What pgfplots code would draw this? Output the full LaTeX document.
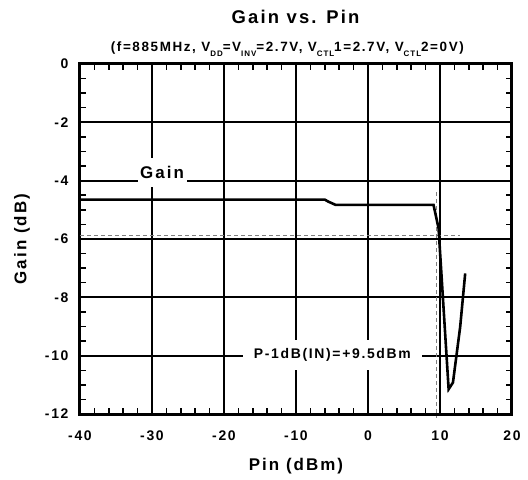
\documentclass[border=0pt]{standalone}
\usepackage{pgfplots}
\pgfplotsset{compat=1.18}
\usepackage{fontspec}
\setmainfont{Liberation Sans}[LetterSpace=12]
\newcommand{\sub}[1]{\raisebox{-0.7ex}{\fontsize{8}{9}\selectfont #1}}
\begin{document}
\begin{tikzpicture}
\begin{axis}[
 scale only axis, width=432bp, height=350bp,
 xmin=-40,xmax=20,ymin=-12,ymax=0,
 xtick={-40,-30,...,20}, xticklabels={-40,-30,-20,-10,0,10,20},
 ytick={-12,-10,...,0}, yticklabels={-12,-10,-8,-6,-4,-2,0},
 minor x tick num=4, minor y tick num=3,
 grid=major, major grid style={black, line width=1.8bp},
 axis line style={line width=3bp},
 tick style={black, line width=1.5bp},
 major tick length=0pt, minor tick length=6bp,
 tick align=inside,
 tick label style={font=\bfseries\fontsize{14}{15}\selectfont},
 xticklabel style={yshift=-13bp},
 yticklabel style={xshift=-8bp},
 xlabel={Pin (dBm)}, ylabel={Gain (dB)},
 label style={font=\bfseries\fontsize{17}{18}\selectfont},
 x label style={at={(axis description cs:0.5,-0.149)}, anchor=center},
 y label style={at={(axis description cs:-0.134,0.5)}, anchor=center},
 clip=false,
]
\addplot[gray, line width=1.2bp, dash pattern=on 4bp off 3bp] coordinates {(-40,-5.88) (12.8,-5.88)};
\addplot[gray, line width=1.2bp, dash pattern=on 4bp off 3bp] coordinates {(9.55,-4.4) (9.55,-12.15)};
\addplot[black, line width=2.6bp] coordinates {
(-40,-4.65) (-6,-4.65) (-5.5,-4.72) (-4.5,-4.83) (9.1,-4.83) (9.8,-5.63)
(11.2,-11.15) (11.8,-10.92) (12.8,-9.02) (13.5,-7.18)};
\node[fill=white, inner sep=0pt, minimum width=49bp, minimum height=29bp, font=\bfseries\fontsize{17}{18}\selectfont] at (axis cs:-28.6,-3.72) {Gain};
\node[fill=white, inner sep=0pt, minimum width=179bp, minimum height=30bp, font=\bfseries\fontsize{14}{15}\selectfont] at (axis cs:-4.95,-9.98) {\raisebox{-3bp}{P-1dB(IN)=+9.5dBm}};
\node[anchor=base, font=\bfseries\fontsize{18.5}{20}\selectfont] at (rel axis cs:0.499,1.117) {Gain vs. Pin};
\node[anchor=base, font=\bfseries\fontsize{13.5}{15}\selectfont] at (rel axis cs:0.48,1.037) {(f=885MHz, V\sub{DD}=V\sub{INV}=2.7V, V\sub{CTL}1=2.7V, V\sub{CTL}2=0V)};
\path (rel axis cs:0,0) ++(-80bp,-66bp) rectangle ++(528bp,480bp);
\end{axis}
\end{tikzpicture}
\end{document}
